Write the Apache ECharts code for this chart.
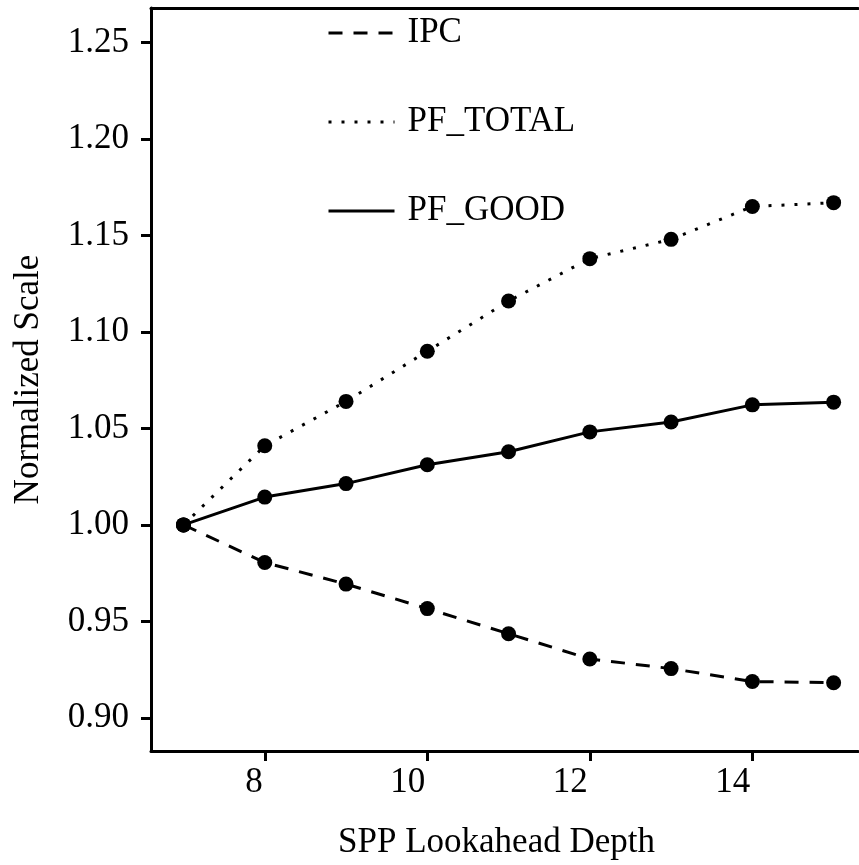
<!DOCTYPE html>
<html>
<head>
<meta charset="utf-8">
<script src="https://cdn.jsdelivr.net/npm/echarts@6/dist/echarts.min.js"></script>
<style>html,body{margin:0;padding:0;background:#fff}#c{width:859px;height:865px}</style>
</head>
<body>
<div id="c"></div>
<script>
var depth = [7, 8, 9, 10, 11, 12, 13, 14, 15];
var ipc = [1.000, 0.9805, 0.9693, 0.9566, 0.9436, 0.9305, 0.9255, 0.9188, 0.9182];
var pfTotal = [1.000, 1.041, 1.064, 1.090, 1.116, 1.138, 1.148, 1.165, 1.167];
var pfGood = [1.000, 1.0144, 1.0214, 1.0312, 1.0379, 1.0482, 1.0533, 1.0622, 1.0636];
var xTicks = [8, 10, 12, 14];
var yTicks = [0.90, 0.95, 1.00, 1.05, 1.10, 1.15, 1.20, 1.25];

var FONT = 'Liberation Serif';
function pairs(v){ return depth.map(function(d,i){ return [d, v[i]]; }); }
function mk(name, vals, type){
  return {
    name: name, type: 'line', data: pairs(vals),
    symbol: 'circle', symbolSize: 15,
    itemStyle: {color: '#000'},
    lineStyle: {color: '#000', width: 3, type: type},
    emphasis: {disabled: true}, animation: false
  };
}
var chart = echarts.init(document.getElementById('c'), null, {renderer: 'canvas'});
chart.setOption({
  backgroundColor: '#fff',
  animation: false,
  grid: {left: 151, right: 1, top: 8, bottom: 110, containLabel: false},
  legend: {
    orient: 'vertical', left: 322, top: 8, itemGap: 49,
    itemWidth: 66, itemHeight: 14,
    itemStyle: {opacity: 0},
    lineStyle: {width: 3},
    textStyle: {fontFamily: FONT, fontSize: 35, color: '#000', lineHeight: 40, padding: [0,0,0,8]},
    data: ['IPC', 'PF_TOTAL', 'PF_GOOD']
  },
  xAxis: [{
    type: 'value', min: 6.6, max: 15.3,
    name: 'SPP Lookahead Depth', nameLocation: 'middle', nameGap: 74,
    nameTextStyle: {fontFamily: FONT, fontSize: 35, color: '#000', padding: [0, 16, 0, 0]},
    axisLine: {show: true, onZero: false, lineStyle: {color: '#000', width: 3}},
    axisTick: {show: true, customValues: xTicks, length: 10, lineStyle: {color: '#000', width: 3}},
    axisLabel: {customValues: xTicks, fontFamily: FONT, fontSize: 35, color: '#000', margin: 14, align: 'right', padding: [0, 2, 0, 0]},
    splitLine: {show: false}
  }, {
    type: 'value', position: 'top', min: 6.6, max: 15.3,
    axisLine: {show: true, onZero: false, lineStyle: {color: '#000', width: 3}},
    axisTick: {show: false}, axisLabel: {show: false}, splitLine: {show: false}
  }],
  yAxis: {
    type: 'value', min: 0.8828, max: 1.2679,
    name: 'Normalized Scale', nameLocation: 'middle', nameGap: 105, nameRotate: 90,
    nameTextStyle: {fontFamily: FONT, fontSize: 35, color: '#000'},
    axisLine: {show: true, onZero: false, lineStyle: {color: '#000', width: 3}},
    axisTick: {show: true, customValues: yTicks, length: 10, lineStyle: {color: '#000', width: 3}},
    axisLabel: {customValues: yTicks, fontFamily: FONT, fontSize: 35, color: '#000', margin: 22,
      formatter: function(v){ return v.toFixed(2); }},
    splitLine: {show: false}
  },
  series: [
    mk('IPC', ipc, [14, 11]),
    mk('PF_TOTAL', pfTotal, [3, 10]),
    mk('PF_GOOD', pfGood, 'solid')
  ]
});
</script>
</body>
</html>
